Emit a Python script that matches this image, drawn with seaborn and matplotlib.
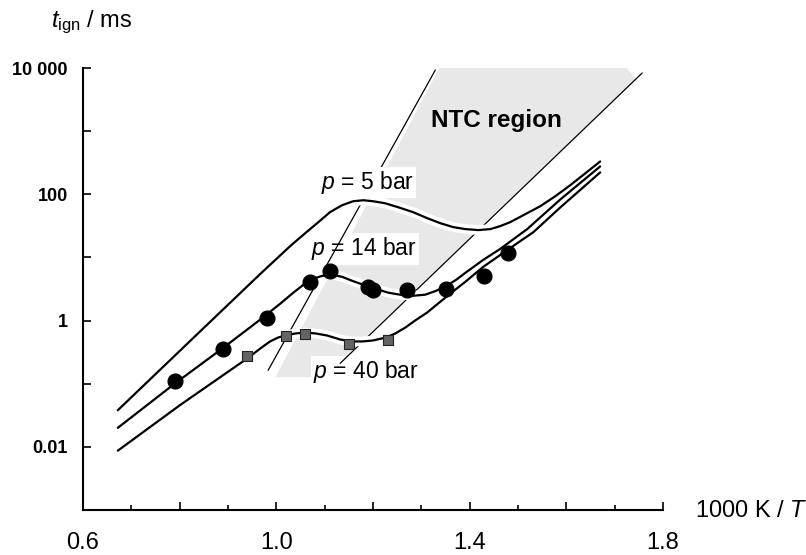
import numpy as np
import pandas as pd
import matplotlib
matplotlib.use("Agg")
import matplotlib.pyplot as plt
import seaborn as sns
from matplotlib.ticker import FixedLocator, NullLocator

# ---------------- data ----------------
# model curves: ignition delay (ms) vs 1000 K / T
x_5bar = [0.672, 0.842, 0.967, 1.029, 1.060, 1.087, 1.111, 1.136, 1.159, 1.180,
          1.200, 1.225, 1.252, 1.283, 1.312, 1.339, 1.366, 1.391, 1.418, 1.443,
          1.463, 1.484, 1.515, 1.546, 1.577, 1.608, 1.639, 1.670]
t_5bar = [0.038, 0.67, 5.5, 15.2, 24.3, 36.2, 52.1, 67.1, 77.6, 80.5,
          77.6, 72.1, 62.4, 52.1, 41.9, 34.9, 30.2, 28.1, 27.1, 28.1,
          31.3, 36.2, 48.4, 64.7, 93, 139, 214, 331]

x_14bar = [0.672, 0.788, 0.888, 0.967, 1.008, 1.035, 1.056, 1.076, 1.095, 1.116,
           1.136, 1.157, 1.180, 1.205, 1.232, 1.256, 1.283, 1.308, 1.331, 1.352,
           1.372, 1.391, 1.428, 1.463, 1.519, 1.588, 1.670]
t_14bar = [0.020, 0.098, 0.36, 1.04, 1.85, 2.76, 3.69, 4.59, 5.11, 5.30,
           4.93, 4.26, 3.69, 3.19, 2.76, 2.57, 2.47, 2.57, 2.97, 3.56,
           4.42, 5.70, 9.14, 13.6, 28.1, 83.4, 276]

x_40bar = [0.672, 0.801, 0.940, 0.967, 0.987, 1.004, 1.018, 1.039, 1.060, 1.082,
           1.105, 1.132, 1.155, 1.178, 1.200, 1.227, 1.246, 1.267, 1.287, 1.312,
           1.352, 1.391, 1.428, 1.484, 1.532, 1.588, 1.670]
t_40bar = [0.0087, 0.046, 0.252, 0.362, 0.467, 0.540, 0.580, 0.624, 0.647, 0.624,
           0.580, 0.502, 0.467, 0.467, 0.484, 0.540, 0.624, 0.776, 1.0, 1.34,
           2.39, 4.11, 7.09, 14.1, 25.2, 62.4, 222]

# measurements
x_14bar_exp = [0.79, 0.89, 0.98, 1.07, 1.11, 1.19, 1.20, 1.27, 1.35, 1.43, 1.48]
t_14bar_exp = [0.11, 0.36, 1.11, 4.1, 6.1, 3.4, 3.1, 3.1, 3.2, 5.1, 11.8]

x_40bar_exp = [0.94, 1.02, 1.06, 1.15, 1.23]
t_40bar_exp = [0.27, 0.58, 0.62, 0.43, 0.50]

# NTC region (shaded area and its two bounding lines)
ntc_x = [1.339, 1.722, 1.745, 1.118, 1.111, 0.998]
ntc_t = [10500, 10500, 6700, 0.176, 0.127, 0.127]
ntc_left_x = [1.329, 0.983]
ntc_left_t = [9300, 0.163]
ntc_right_x = [1.757, 1.132]
ntc_right_t = [8340, 0.21]

x_ticks = [0.6, 0.8, 1.0, 1.2, 1.4, 1.6, 1.8]
x_ticklabels = ["0.6", "", "1.0", "", "1.4", "", "1.8"]
x_minor = [0.7, 0.9, 1.1, 1.3, 1.5, 1.7]
y_ticks = [0.01, 0.1, 1, 10, 100, 1000, 10000]
y_ticklabels = ["0.01", "", "1", "", "100", "", "10 000"]

labels = [r"$p$ = 5 bar", r"$p$ = 14 bar", r"$p$ = 40 bar"]
label_x = [1.188, 1.182, 1.186]
label_t = [154, 13.6, 0.157]

# ---------------- style ----------------
sns.set_theme(style="white")
plt.rcParams["font.family"] = ["Liberation Sans", "DejaVu Sans"]
plt.rcParams["mathtext.fontset"] = "custom"
plt.rcParams["mathtext.rm"] = "Liberation Sans"
plt.rcParams["mathtext.it"] = "Liberation Sans:italic"
plt.rcParams["mathtext.bf"] = "Liberation Sans:bold"
for k in ["text.color", "axes.labelcolor", "xtick.color", "ytick.color"]:
    plt.rcParams[k] = "black"

fig = plt.figure(figsize=(8.06, 5.55), dpi=100)
ax = fig.add_axes([83 / 806, 45 / 555, 580 / 806, 442 / 555])
ax.set_yscale("log")
ax.set_xlim(0.6, 1.8)
ax.set_ylim(1e-3, 1e4)

# shaded NTC region
ax.fill(ntc_x, ntc_t, color="#e8e8e8", lw=0, zorder=1)
sns.lineplot(x=ntc_left_x, y=ntc_left_t, sort=False, estimator=None,
             color="black", lw=0.9, zorder=2.5, ax=ax)
sns.lineplot(x=ntc_right_x, y=ntc_right_t, sort=False, estimator=None,
             color="black", lw=0.9, zorder=2.5, ax=ax)

curves = pd.concat([
    pd.DataFrame({"x": x_5bar, "t": t_5bar, "p": "5"}),
    pd.DataFrame({"x": x_14bar, "t": t_14bar, "p": "14"}),
    pd.DataFrame({"x": x_40bar, "t": t_40bar, "p": "40"}),
], ignore_index=True)

# white halo, then black curves
sns.lineplot(data=curves, x="x", y="t", units="p", estimator=None, sort=False,
             color="white", lw=7, zorder=3, ax=ax, legend=False,
             solid_capstyle="butt", solid_joinstyle="round")
sns.lineplot(data=curves, x="x", y="t", units="p", estimator=None, sort=False,
             color="black", lw=1.6, zorder=4, ax=ax, legend=False,
             solid_joinstyle="round")

sns.scatterplot(x=x_14bar_exp, y=t_14bar_exp, marker="o", s=115, color="black",
                edgecolor="black", zorder=6, ax=ax)
sns.scatterplot(x=x_40bar_exp, y=t_40bar_exp, marker="s", s=55, color="#646464",
                edgecolor="#222222", linewidth=0.8, zorder=6, ax=ax)

# labels
ax.text(label_x[0], label_t[0], labels[0], ha="center", va="center",
        fontsize=16.5, zorder=5,
        bbox=dict(boxstyle="square,pad=0.1", fc="white", ec="none"))
ax.text(label_x[1], label_t[1], labels[1], ha="center", va="center",
        fontsize=16.5, zorder=2,
        bbox=dict(boxstyle="square,pad=0.1", fc="white", ec="none"))
ax.text(label_x[2], label_t[2], labels[2], ha="center", va="center",
        fontsize=16.5, zorder=2,
        bbox=dict(boxstyle="square,pad=0.1", fc="white", ec="none"))
ax.text(1.455, 1460, "NTC region", ha="center", va="center", fontsize=17.5,
        fontweight="bold", color="black", zorder=5)

# axes styling
for s in ["top", "right"]:
    ax.spines[s].set_visible(False)
for s in ["left", "bottom"]:
    ax.spines[s].set_color("black")
    ax.spines[s].set_linewidth(1.5)

ax.xaxis.set_major_locator(FixedLocator(x_ticks))
ax.set_xticklabels(x_ticklabels)
ax.xaxis.set_minor_locator(FixedLocator(x_minor))
ax.yaxis.set_major_locator(FixedLocator(y_ticks))
ax.set_yticklabels(y_ticklabels)
ax.yaxis.set_minor_locator(NullLocator())

ax.tick_params(axis="x", which="major", direction="in", length=6, width=1.2,
               pad=16, labelsize=17, colors="black", bottom=True)
ax.tick_params(axis="x", which="minor", direction="in", length=3.5, width=1.2,
               colors="black", bottom=True)
ax.tick_params(axis="y", which="major", direction="in", length=6, width=1.2,
               pad=11, labelsize=13, colors="black", left=True)
for lab in ax.get_yticklabels():
    lab.set_fontweight("bold")

ax.set_xlabel("")
ax.set_ylabel("")
fig.text(92 / 806, 1 - 22 / 555, r"$t_{\mathrm{ign}}$ / ms", ha="center",
         va="center", fontsize=17)
fig.text(695 / 806, 1 - 511 / 555, r"1000 K / $T$", ha="left", va="center",
         fontsize=17)

fig.savefig("out.png", dpi=100, facecolor="white")
